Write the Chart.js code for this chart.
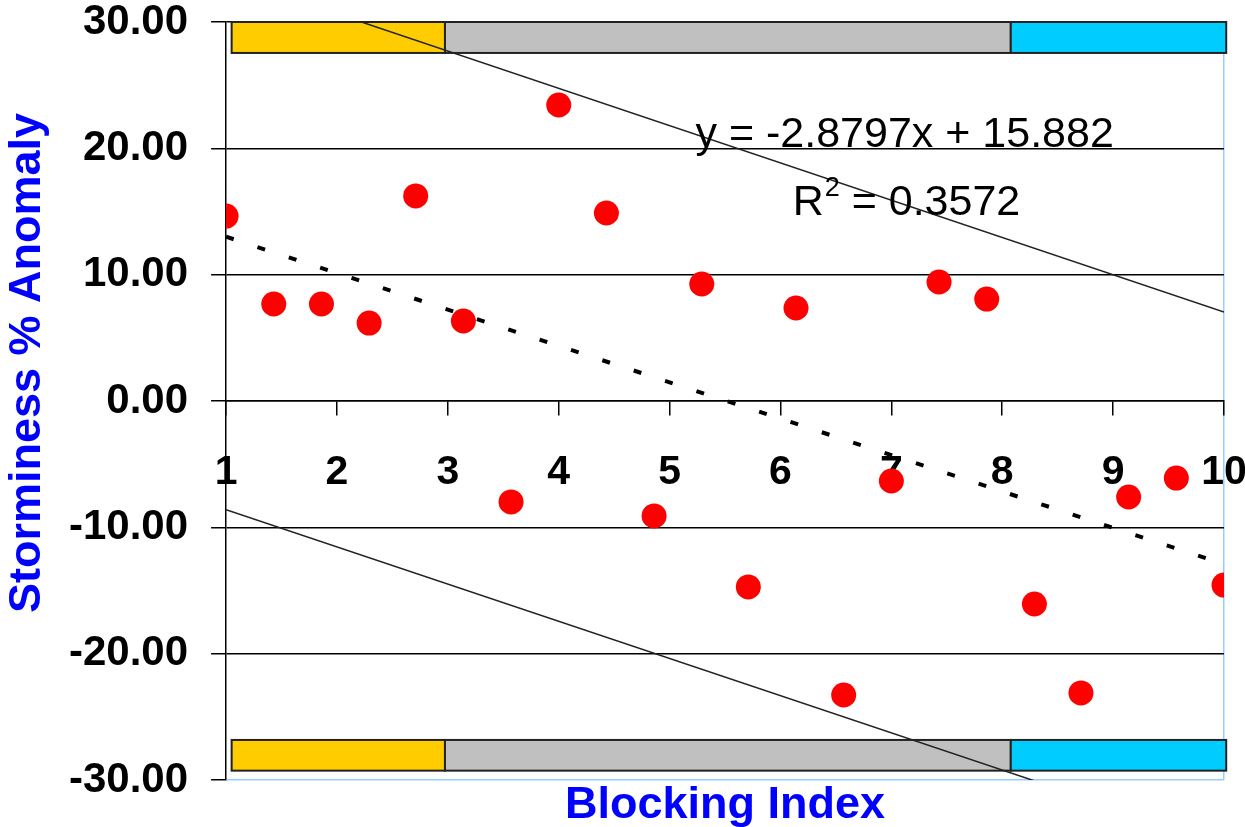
<!DOCTYPE html>
<html>
<head>
<meta charset="utf-8">
<script src="https://cdn.jsdelivr.net/npm/chart.js@4"></script>
<style>
  html, body { margin: 0; padding: 0; background: #fff; }
  #wrap { width: 1245px; height: 827px; }
</style>
</head>
<body>
<div id="wrap"><canvas id="stormChart" width="1245" height="827"></canvas></div>
<script>
// values
var blockingIndex = [1.00, 1.43, 1.86, 2.29, 2.71, 3.14, 3.57, 4.00, 4.43, 4.86, 5.29,
                     5.71, 6.14, 6.57, 7.00, 7.43, 7.86, 8.29, 8.71, 9.14, 9.57, 10.00];
var storminess = [14.64, 7.68, 7.68, 6.17, 16.23, 6.33, -7.99, 23.43, 14.88, -9.10, 9.26,
                  -14.72, 7.36, -23.27, -6.33, 9.42, 8.07, -16.07, -23.11, -7.60, -6.10, -14.57];

// linear trend y = -2.8797x + 15.882, drawn between x = 1 and x = 10
var trendX = [1, 10];
var trendY = [13.00, -12.92];

// the two thin guide lines
var upperX = [1, 10];
var upperY = [33.6, 7.05];
var lowerX = [1, 10];
var lowerY = [-8.6, -35.1];

// coloured bands top and bottom
var bandEdges = [1.05, 2.974, 8.077, 10.02];
var bandColors = ['#FFCC00', '#C0C0C0', '#00CCFF'];
var topBand = [27.55, 30];
var bottomBand = [-29.26, -26.83];

var eqText = 'y = -2.8797x + 15.882';
var r2Text = ' = 0.3572';
var xTitle = 'Blocking Index';
var yTitle = 'Storminess % Anomaly';

var FONT = 'Arial, "Liberation Sans", sans-serif';

function pairs(xs, ys) {
  return xs.map(function (x, i) { return { x: x, y: ys[i] }; });
}

var overlay = {
  id: 'overlay',
  beforeDatasetsDraw: function (chart) {
    var ctx = chart.ctx, sx = chart.scales.x, sy = chart.scales.y;
    ctx.save();
    [topBand, bottomBand].forEach(function (band) {
      var yTop = sy.getPixelForValue(band[1]);
      var yBot = sy.getPixelForValue(band[0]);
      for (var i = 0; i < bandColors.length; i++) {
        var x0 = sx.getPixelForValue(bandEdges[i]);
        var x1 = sx.getPixelForValue(bandEdges[i + 1]);
        ctx.fillStyle = bandColors[i];
        ctx.fillRect(x0, yTop, x1 - x0, yBot - yTop);
        ctx.strokeStyle = '#222';
        ctx.lineWidth = 2;
        ctx.strokeRect(x0, yTop, x1 - x0, yBot - yTop);
      }
    });
    ctx.restore();
  },
  afterDraw: function (chart) {
    var ctx = chart.ctx, sx = chart.scales.x, sy = chart.scales.y, area = chart.chartArea;
    ctx.save();
    // regression text
    ctx.fillStyle = '#000';
    ctx.font = '43px ' + FONT;
    ctx.textAlign = 'center';
    ctx.textBaseline = 'alphabetic';
    ctx.fillText(eqText, sx.getPixelForValue(7.12), sy.getPixelForValue(20.1));
    var rx = sx.getPixelForValue(6.11), ry = sy.getPixelForValue(14.72);
    ctx.textAlign = 'left';
    ctx.fillText('R', rx, ry);
    var w = ctx.measureText('R').width;
    ctx.font = '27px ' + FONT;
    ctx.fillText('2', rx + w + 1, ry - 19);
    var w2 = ctx.measureText('2').width;
    ctx.font = '43px ' + FONT;
    ctx.fillText(r2Text, rx + w + w2 + 1, ry);

    // axis titles
    ctx.fillStyle = '#0000FF';
    ctx.font = 'bold 45px ' + FONT;
    ctx.textAlign = 'center';
    ctx.fillText(xTitle, (area.left + area.right) / 2, 818);
    ctx.translate(40, 363);
    ctx.rotate(-Math.PI / 2);
    ctx.fillText(yTitle, 0, 0);
    ctx.restore();
  }
};

new Chart(document.getElementById('stormChart'), {
  type: 'scatter',
  data: {
    datasets: [
      {
        type: 'line',
        data: pairs(trendX, trendY),
        borderColor: '#000',
        borderWidth: 4,
        borderDash: [8, 25],
        pointRadius: 0,
        fill: false
      },
      {
        type: 'line',
        data: pairs(upperX, upperY),
        borderColor: '#222',
        borderWidth: 1.5,
        pointRadius: 0,
        fill: false
      },
      {
        type: 'line',
        data: pairs(lowerX, lowerY),
        borderColor: '#222',
        borderWidth: 1.5,
        pointRadius: 0,
        fill: false
      },
      {
        data: pairs(blockingIndex, storminess),
        backgroundColor: '#FF0000',
        borderColor: '#FF0000',
        borderWidth: 0,
        pointRadius: 12.5,
        pointHoverRadius: 12.5
      }
    ]
  },
  options: {
    responsive: false,
    animation: false,
    events: [],
    layout: { padding: { left: 46, right: 0, top: 0, bottom: 47 } },
    plugins: { legend: { display: false }, tooltip: { enabled: false } },
    scales: {
      x: {
        type: 'linear',
        position: { y: 0 },
        min: 1,
        max: 10,
        afterFit: function (s) { s.paddingLeft = 12; s.paddingRight = 21; },
        grid: {
          color: function (c) { return c.tick && c.tick.value === 10 ? '#99CCFF' : 'rgba(0,0,0,0)'; },
          tickColor: '#000',
          tickLength: 14,
          lineWidth: 1.5
        },
        border: { display: true, color: '#000', width: 1.5 },
        ticks: {
          stepSize: 1,
          maxRotation: 0,
          padding: 37,
          color: '#000',
          font: { family: FONT, size: 41, weight: 'bold', lineHeight: 1 }
        }
      },
      y: {
        min: -30,
        max: 30,
        afterFit: function (s) { s.paddingTop = 22; s.paddingBottom = 22; },
        grid: {
          color: function (c) { return c.tick && c.tick.value === -30 ? '#99CCFF' : '#000'; },
          tickColor: '#000',
          tickLength: 15,
          lineWidth: 1.5
        },
        border: { display: true, color: '#000', width: 1.5 },
        ticks: {
          stepSize: 10,
          padding: 23,
          color: '#000',
          font: { family: FONT, size: 42, weight: 'bold', lineHeight: 1 },
          callback: function (v) { return v.toFixed(2); }
        }
      }
    }
  },
  plugins: [overlay]
});
</script>
</body>
</html>
